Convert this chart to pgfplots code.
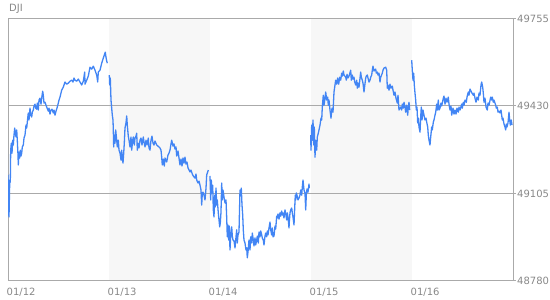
\documentclass[border=0pt]{standalone}
\usepackage{pgfplots}
\pgfplotsset{compat=1.18}
\usepackage{fontspec}
\setmainfont{DejaVu Sans}
\definecolor{lineblue}{RGB}{66,133,244}
\definecolor{framegray}{RGB}{170,170,170}
\definecolor{txtgray}{RGB}{136,136,136}
\definecolor{band}{RGB}{247,247,247}
\pgfplotsset{dji/.style={draw=lineblue, line width=1.3pt, line join=round, mark=none}}
\begin{document}
\begin{tikzpicture}
\begin{axis}[
  set layers,
  at={(8pt,19pt)}, anchor=south west,
  width=505pt, height=262.5pt, scale only axis,
  xmin=0, xmax=505, ymin=48780, ymax=49755,
  axis line style={framegray, line width=1pt},
  xtick={0,101,202,303,404},
  xticklabels={01/12,01/13,01/14,01/15,01/16},
  ytick={48780,49105,49430,49755},
  yticklabels={48780,49105,49430,49755},
  scaled y ticks=false,
  ytick pos=right, yticklabel pos=right,
  tick align=outside,
  major tick length=3pt,
  tick style={framegray, line width=1pt},
  xtick style={draw=none},
  ymajorgrids, grid style={framegray, line width=1pt},
  tick label style={font=\fontsize{10}{10}\selectfont, text=txtgray},
  xticklabel style={anchor=north west, inner sep=0pt, yshift=-4pt, xshift=-1.5pt},
  yticklabel style={anchor=west, inner sep=0pt, xshift=1pt},
  /pgf/number format/assume math mode=true,
]
\addplot[draw=none, fill=band, on layer=axis background] coordinates {(101,48780)(101,49755)(202,49755)(202,48780)} -- cycle;
\addplot[draw=none, fill=band, on layer=axis background] coordinates {(303,48780)(303,49755)(404,49755)(404,48780)} -- cycle;
% 01/12
\addplot[dji] coordinates {(0,49174)(0.3,49025)(0.7,49155)(1,49018)(1.7,49144)(2.3,49148)(2.7,49266)(3.3,49292)(4,49255)(4.7,49303)(5.3,49285)(6,49322)(6.7,49348)(7.3,49329)(8,49315)(8.7,49341)(9.3,49303)(10,49248)(10.3,49211)(11,49259)(11.7,49237)(12.3,49266)(13,49244)(13.7,49255)(14.3,49278)(15.3,49285)(16,49311)(17,49322)(18,49359)(18.7,49348)(19.7,49385)(20.3,49404)(21,49378)(22,49422)(22.7,49396)(23.7,49389)(24.3,49407)(25.3,49415)(26,49430)(27,49437)(27.7,49422)(28.7,49418)(29.3,49441)(30.3,49415)(31,49452)(32,49459)(33,49437)(33.7,49459)(34.7,49485)(35.3,49470)(36,49441)(37,49444)(38.7,49426)(40.3,49411)(41,49422)(42,49400)(43,49415)(44,49418)(45.3,49404)(46,49415)(47,49396)(48,49411)(49,49422)(50.3,49441)(51,49452)(52,49463)(53.7,49489)(55.3,49500)(56,49508)(57,49519)(58.7,49511)(60.3,49515)(62,49522)(63.7,49526)(65,49519)(66,49534)(67,49526)(68.7,49522)(70.3,49530)(72,49519)(73.7,49508)(75.3,49522)(76.7,49556)(77,49511)(78.7,49526)(80.3,49541)(82,49574)(83.7,49567)(85.3,49578)(87,49563)(88.7,49545)(89.7,49519)(90.3,49556)(92,49563)(93.7,49589)(95.3,49608)(96.3,49619)(97.3,49630)(98,49611)(98.7,49597)(99.3,49589)};
% 01/13
\addplot[dji] coordinates {(101.3,49545)(101.7,49508)(102.3,49534)(103,49452)(103.7,49422)(104.3,49396)(105,49378)(105.3,49341)(105.7,49278)(106.3,49322)(107,49292)(107.7,49341)(108.7,49303)(109.3,49278)(110.3,49303)(111,49266)(112,49255)(113,49229)(113.7,49266)(114.3,49237)(115,49218)(115.7,49255)(116.3,49292)(117,49348)(118,49367)(118.7,49393)(119.3,49359)(120.3,49318)(121,49303)(122,49278)(123,49315)(123.7,49266)(124.7,49303)(125.3,49315)(126.3,49285)(127,49311)(128,49318)(128.7,49329)(129.3,49266)(130,49292)(131,49274)(132,49303)(133,49311)(134,49285)(135.3,49315)(136,49296)(137,49278)(138,49303)(139,49285)(140.3,49311)(141,49274)(142,49266)(143,49303)(144,49318)(145,49292)(146,49285)(147,49300)(148.7,49285)(150,49281)(152,49274)(153,49266)(153.7,49240)(154.3,49211)(155.3,49233)(156.3,49207)(157,49237)(158.7,49222)(160,49248)(161,49255)(162,49266)(163,49289)(163.7,49303)(165,49281)(166,49289)(167,49270)(168,49278)(168.7,49244)(170,49263)(171,49237)(172,49211)(173,49233)(174,49207)(175,49237)(176,49218)(177,49240)(178,49214)(179,49222)(180,49200)(182,49185)(183,49192)(184.3,49177)(185.3,49170)(187,49162)(188,49177)(188.7,49155)(190,49144)(191,49151)(192,49136)(193,49118)(193.7,49062)(194.3,49107)(195,49110)(196,49099)(197,49081)(198,49125)(198.7,49174)(199.7,49185)(200.3,49192)};
% 01/14
\addplot[dji] coordinates {(202,49170)(202.7,49081)(203.3,49155)(204,49107)(204.7,49136)(205.3,49044)(206,49018)(206.7,49099)(207.3,49055)(208,49125)(208.7,49062)(209.3,49081)(210.3,49033)(211,49007)(211.7,48981)(212.3,48995)(213,49036)(213.7,49144)(214.3,49081)(215,49118)(216,49092)(217,49070)(218,49081)(218.7,49014)(219.3,48944)(220,48988)(220.7,48932)(221.3,48984)(222,48895)(222.7,48947)(223.7,48981)(224.3,48947)(225,48932)(226,48929)(227,48903)(227.7,48932)(228.7,48970)(229.3,48921)(230,48951)(231,48962)(232,49118)(232.7,49107)(233.3,49125)(234,49062)(234.7,49025)(235.3,48970)(236,48932)(237,48921)(238,48895)(238.7,48903)(239.3,48866)(240,48888)(241,48932)(242,48895)(242.7,48944)(243.7,48921)(244.3,48958)(245.3,48932)(246,48910)(247,48940)(247.7,48914)(248.7,48932)(249.3,48947)(250.3,48921)(251,48962)(252,48944)(252.7,48966)(253.7,48951)(254.3,48940)(255.3,48932)(256,48914)(257,48947)(257.7,48958)(258.7,48944)(259.3,48966)(260,48951)(261,48977)(262,48999)(262.7,48970)(263.7,48951)(264.3,48977)(265,48944)(266,48947)(267,48984)(267.7,48973)(268.7,49021)(269.3,49014)(270,49029)(271,49010)(272,49033)(272.7,49021)(273.7,49040)(274.3,49025)(275,49033)(276,49014)(277,49044)(277.7,49029)(278.7,49007)(279.3,49033)(280,49018)(281,48977)(281.3,48999)(282,49033)(282.7,49044)(283.7,49051)(284.3,49033)(285,49018)(286,48988)(286.7,49051)(287.3,49099)(287.7,49081)(288.3,49107)(289,49099)(290,49081)(291,49088)(292,49099)(292.7,49118)(293.7,49099)(294.3,49129)(295,49155)(296,49118)(297,49107)(297.7,49044)(298.3,49099)(299,49122)(300,49110)(301,49140)(301.3,49125)};
% 01/15
\addplot[dji] coordinates {(302.7,49322)(303,49266)(303.7,49359)(304.3,49303)(305,49378)(305.7,49285)(306.3,49352)(307,49240)(307.7,49303)(308.7,49266)(309.3,49315)(310.3,49329)(311,49341)(312,49359)(313,49385)(313.7,49378)(314.3,49426)(315.3,49470)(316,49433)(317,49459)(317.7,49482)(318.7,49452)(319.7,49463)(320.3,49433)(321,49452)(322,49415)(323,49385)(324,49422)(325,49407)(326,49482)(327,49508)(327.7,49526)(328.7,49511)(329.7,49534)(330.7,49511)(331.7,49537)(332.7,49526)(333.7,49552)(334.3,49541)(335.3,49560)(336,49545)(337.7,49537)(338.3,49526)(339,49548)(340,49534)(341,49541)(342.7,49563)(343.3,49526)(344.3,49545)(345,49530)(346,49537)(346.7,49519)(347.7,49508)(348.7,49526)(349.3,49496)(350,49515)(351,49500)(352.7,49556)(353.3,49537)(354.3,49526)(355,49515)(356,49482)(356.7,49504)(357.7,49534)(358.3,49541)(359.3,49545)(360,49534)(361,49519)(362,49526)(362.7,49537)(363.7,49545)(364.3,49563)(365,49578)(366,49560)(367.7,49567)(368.3,49552)(369.3,49556)(370,49545)(371,49552)(372,49519)(372.7,49537)(374.3,49552)(375,49563)(376,49571)(377.7,49574)(378.7,49563)(379.3,49496)(380,49508)(381,49489)(382,49511)(383,49496)(384.3,49504)(385,49489)(386,49470)(387,49482)(388,49459)(389.3,49441)(390,49470)(391,49415)(392,49422)(392.7,49426)(393.7,49415)(394.3,49437)(395.3,49422)(396,49444)(397,49426)(397.7,49407)(398.7,49433)(399.7,49396)(400.3,49426)(401,49444)(401.7,49415)};
% 01/16
\addplot[dji] coordinates {(403.7,49600)(404.3,49563)(405,49526)(405.7,49552)(406.3,49508)(407,49478)(407.7,49452)(408.3,49415)(409,49426)(409.7,49367)(410.3,49385)(411,49352)(412,49333)(412.7,49389)(413.3,49426)(414,49378)(415,49415)(416,49396)(417,49378)(418,49385)(418.7,49370)(419.7,49352)(420.3,49322)(421,49303)(422,49285)(422.7,49315)(423.7,49352)(424.3,49341)(425.3,49370)(426,49378)(427,49396)(427.7,49407)(428.7,49437)(429.3,49415)(430.3,49452)(431,49415)(432,49422)(433,49441)(433.7,49430)(435.3,49459)(436,49467)(437,49437)(438,49459)(439,49444)(440.3,49463)(441,49437)(442,49415)(443,49430)(443.7,49396)(445,49422)(446,49400)(447,49415)(448,49400)(449,49422)(450.3,49407)(451,49426)(452,49415)(453.7,49437)(454.3,49422)(455.3,49444)(456,49433)(457,49452)(458.3,49444)(459,49463)(460.3,49482)(461,49470)(462,49493)(463,49485)(464,49478)(465.3,49470)(466,49478)(467,49459)(468,49444)(469,49463)(470.3,49452)(471,49478)(472,49470)(473,49508)(473.7,49519)(474.7,49500)(475.3,49478)(476,49444)(477,49459)(478,49426)(479.3,49415)(480,49441)(481,49433)(482.7,49463)(483.7,49452)(484.3,49463)(485.3,49444)(486,49452)(487.7,49433)(488.3,49422)(489.3,49426)(490,49407)(491,49411)(492,49404)(493,49415)(494.3,49378)(495,49385)(496,49363)(497,49352)(497.7,49341)(498.3,49363)(499,49352)(500,49367)(501,49407)(501.7,49378)(502.3,49359)(503.3,49378)(504,49359)};
\end{axis}
\node[anchor=west, inner sep=0pt, text=txtgray, font=\fontsize{10}{10}\selectfont] at (9pt,291pt) {DJI};
\pgfresetboundingbox
\useasboundingbox (0pt,0pt) rectangle (550pt,300pt);
\end{tikzpicture}
\end{document}
